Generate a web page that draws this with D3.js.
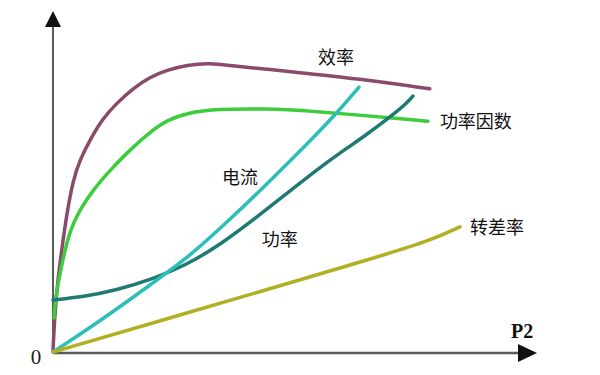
<!DOCTYPE html>
<html>
<head>
<meta charset="utf-8">
<script src="https://cdn.jsdelivr.net/npm/d3@7"></script>
<style>
	body { margin: 0; background: #fff; }
	svg { display: block; }
</style>
</head>
<body>
<svg id="chart" width="600" height="375"></svg>
<script>
// curve values (x: load P2, y: relative value)
const efficiency = [[0, 0.6], [0.4, 11.5], [1, 21.2], [1.9, 30.9], [2.9, 40.9], [4.2, 50.6], [5.6, 56.5],
	[7.7, 62.4], [10.4, 68.8], [13.3, 73.2], [16.7, 77.6], [20.2, 80.9], [23.75, 82.9], [27.9, 84.4],
	[32.7, 85], [37.5, 84.1], [44.6, 83.2], [51.5, 82.1], [64, 80.3], [78.5, 77.4]];
const powerFactor = [[0.2, 10], [0.4, 13.8], [0.8, 18.2], [1.9, 26.2], [3.5, 35.9], [5.6, 41.8], [8.3, 47.6],
	[11.9, 53.5], [16, 59.4], [20.2, 64.7], [23.75, 68.2], [27.9, 70.3], [34.2, 71.5], [44.6, 71.5],
	[51.5, 71.2], [78.1, 67.9]];
const power = [[0, 15.3], [6.25, 16.2], [13.3, 18.2], [20.2, 21.2], [27.9, 25.6], [35.4, 32.1], [42.5, 39.7],
	[49.4, 47.4], [56.25, 55], [61.9, 60.6], [64.6, 63.2], [70.2, 69.1], [73.75, 73.2], [75, 75.3]];
const current = [[0, 0], [9.8, 9.1], [20.2, 19.7], [28.5, 28.2], [35.4, 37.1], [42.5, 46.5],
	[51.5, 59.1], [59.2, 70.3], [63.75, 77.9]];
const slip = [[0, 0], [26.5, 10.9], [51.5, 21.2], [68.1, 28.2], [77.9, 32.4], [84.8, 36.8]];

const seriesNames = ['效率', '功率因数', '功率', '电流', '转差率'];
const seriesColors = ['#8a4a6a', '#3ccc3c', '#1e7a72', '#2bbfb8', '#b0b022'];
// label anchors in data units
const labelAnchors = [[55.2, 87], [80.6, 68.2], [43.5, 33.5], [35.2, 51.8], [86.9, 37.1]];

const xLabel = 'P2';
const originLabel = '0';

const svg = d3.select('#chart');
const x = d3.scaleLinear().domain([0, 100]).range([53, 533]);
const y = d3.scaleLinear().domain([0, 100]).range([352, 12]);

const axisColor = '#5a5a5a';

// axes with arrows
svg.append('line')
	.attr('x1', x(0)).attr('y1', y(0) + 1)
	.attr('x2', x(0)).attr('y2', 27)
	.attr('stroke', axisColor).attr('stroke-width', 2);
svg.append('line')
	.attr('x1', x(0)).attr('y1', y(0) + 1)
	.attr('x2', 520).attr('y2', y(0) + 1)
	.attr('stroke', axisColor).attr('stroke-width', 2.5);
svg.append('path')
	.attr('d', `M${x(0) - 8},27 L${x(0)},11 L${x(0) + 8},27 Z`)
	.attr('fill', '#111');
svg.append('path')
	.attr('d', `M518,344 L537,${y(0) + 1} L518,362 Z`)
	.attr('fill', '#111');

const data = seriesNames.map((name, i) => ({
	name,
	color: seriesColors[i],
	values: [efficiency, powerFactor, power, current, slip][i],
	anchor: labelAnchors[i],
}));

// basis smooths out the small wobble of hand-read points
const line = d3.line()
	.x((d) => x(d[0]))
	.y((d) => y(d[1]))
	.curve(d3.curveBasis);

svg.selectAll('.curve')
	.data(data)
	.join('path')
	.attr('class', 'curve')
	.attr('d', (d) => line(d.values))
	.attr('fill', 'none')
	.attr('stroke', (d) => d.color)
	.attr('stroke-width', 3.5)
	.attr('stroke-linecap', 'round');

svg.selectAll('.label')
	.data(data)
	.join('text')
	.attr('class', 'label')
	.attr('x', (d) => x(d.anchor[0]))
	.attr('y', (d) => y(d.anchor[1]))
	.attr('dominant-baseline', 'central')
	.attr('font-family', '"Noto Sans CJK SC", sans-serif')
	.attr('font-size', 18)
	.attr('fill', '#111')
	.text((d) => d.name);

svg.append('text')
	.attr('x', 36).attr('y', 364)
	.attr('text-anchor', 'middle')
	.attr('font-family', '"Liberation Serif", serif')
	.attr('font-size', 21)
	.attr('fill', '#222')
	.text(originLabel);

svg.append('text')
	.attr('x', 511).attr('y', 338)
	.attr('font-family', '"Liberation Serif", serif')
	.attr('font-weight', 'bold')
	.attr('font-size', 20)
	.attr('fill', '#111')
	.text(xLabel);
</script>
</body>
</html>
